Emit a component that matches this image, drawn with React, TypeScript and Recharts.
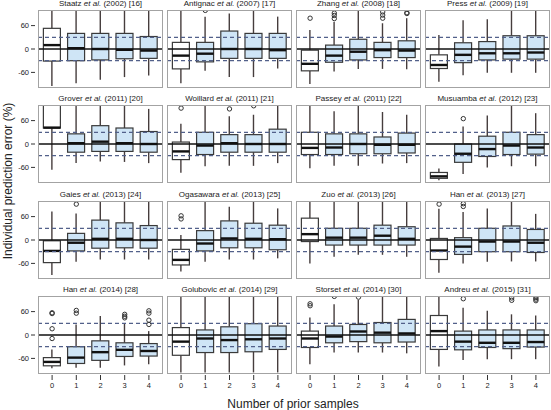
import React from "react";
import { ComposedChart, Bar, Line, XAxis, YAxis, ReferenceLine } from "recharts";

const CATEGORIES = ["0", "1", "2", "3", "4"];
const Y_TICKS = [-60, -30, 0, 30, 60];

// each entry: [lower whisker, q1, median, q3, upper whisker]
type Stat = [number, number, number, number, number];

const staatz: Stat[] = [[-95, -31, 10, 53, 100], [-88, -30, 2, 40, 100], [-79, -28, 0, 40, 100], [-72, -25, -2, 40, 100], [-68, -24, -4, 32, 100]];
const antignac: Stat[] = [[-88, -51, -17, 17, 100], [-56, -33, -12, 17, 83], [-72, -24, 0, 46, 91], [-72, -24, 0, 40, 100], [-50, -24, -3, 40, 83]];
const zhang: Stat[] = [[-90, -56, -38, -3, 49], [-58, -34, -17, 10, 70], [-51, -28, -7, 25, 100], [-51, -22, -3, 17, 66], [-52, -22, -4, 21, 79]];
const press: Stat[] = [[-84, -50, -41, -15, 36], [-67, -35, -15, 16, 74], [-61, -28, -11, 19, 76], [-61, -26, -11, 34, 100], [-61, -26, -9, 34, 100]];
const grover: Stat[] = [[-66, 41, 42, 100, 100], [-49, -21, 2, 26, 100], [-45, -19, 6, 47, 100], [-46, -19, 2, 41, 100], [-49, -21, 0, 32, 90]];
const woillard: Stat[] = [[-74, -40, -19, 5, 52], [-57, -27, -4, 30, 100], [-56, -21, 2, 24, 71], [-56, -21, 0, 24, 75], [-49, -21, 0, 38, 100]];
const passey: Stat[] = [[-62, -27, -10, 30, 100], [-56, -27, -9, 26, 84], [-56, -25, 0, 26, 99], [-50, -25, -2, 18, 82], [-49, -23, -2, 28, 75]];
const musuamba: Stat[] = [[-93, -88, -83, -73, -63], [-77, -47, -25, 0, 45], [-60, -32, -13, 20, 73], [-57, -27, -4, 30, 100], [-57, -26, -9, 24, 79]];
const gaies: Stat[] = [[-90, -58, -28, -2, 73], [-56, -28, -7, 17, 68], [-50, -21, 3, 51, 100], [-50, -20, 3, 44, 100], [-50, -21, 0, 37, 100]];
const ogasawara: Stat[] = [[-81, -64, -51, -24, 13], [-56, -28, -9, 24, 100], [-50, -20, 4, 49, 85], [-50, -20, 3, 43, 100], [-47, -25, 2, 38, 81]];
const zuo: Stat[] = [[-60, -4, 15, 56, 100], [-43, -13, 6, 30, 100], [-38, -13, 6, 30, 100], [-38, -13, 11, 38, 100], [-43, -13, 3, 34, 100]];
const han2013: Stat[] = [[-84, -50, -27, 4, 80], [-60, -37, -17, 6, 72], [-56, -30, -4, 30, 81], [-55, -30, -4, 36, 100], [-55, -32, -7, 27, 67]];
const han2014: Stat[] = [[-85, -79, -69, -58, -37], [-84, -73, -58, -30, 27], [-84, -65, -44, -15, 49], [-78, -55, -38, -20, 30], [-75, -54, -41, -22, 10]];
const golubovic: Stat[] = [[-96, -52, -17, 19, 100], [-96, -45, -9, 13, 100], [-96, -45, -13, 21, 100], [-96, -43, -11, 29, 100], [-96, -37, -9, 23, 100]];
const storset: Stat[] = [[-75, -32, -9, 10, 45], [-45, -20, -4, 23, 79], [-45, -17, 9, 27, 90], [-45, -20, 6, 32, 100], [-47, -18, 4, 40, 100]];
const andreu: Stat[] = [[-81, -37, 10, 50, 100], [-64, -38, -17, 10, 70], [-62, -32, -20, 13, 62], [-62, -35, -20, 13, 53], [-62, -31, -18, 13, 50]];

// outliers per category
const antignacOut = [[], [99], [], [], []];
const zhangOut = [[79], [92, 86, 78], [], [95, 87, 79], [93, 91]];
const woillardOut = [[92], [], [90], [98], []];
const musuambaOut = [[], [65], [], [], []];
const gaiesOut = [[], [92], [], [], []];
const ogasawaraOut = [[62, 54], [], [], [], []];
const han2013Out = [[92], [93, 86], [], [], []];
const han2014Out = [[57, 55, 16, -9], [63, 56], [], [53, 48, 44], [62, 56, 38, 27]];
const storsetOut = [[80, 75], [99], [97], [], []];
const andreuOut = [[], [93], [], [95, 89], [96, 92, 88]];

const PANELS = [
  { author: "Staatz", year: "2002", ref: "16", stats: staatz, out: [] as number[][] },
  { author: "Antignac", year: "2007", ref: "17", stats: antignac, out: antignacOut },
  { author: "Zhang", year: "2008", ref: "18", stats: zhang, out: zhangOut },
  { author: "Press", year: "2009", ref: "19", stats: press, out: [] },
  { author: "Grover", year: "2011", ref: "20", stats: grover, out: [] },
  { author: "Woillard", year: "2011", ref: "21", stats: woillard, out: woillardOut },
  { author: "Passey", year: "2011", ref: "22", stats: passey, out: [] },
  { author: "Musuamba", year: "2012", ref: "23", stats: musuamba, out: musuambaOut },
  { author: "Gaies", year: "2013", ref: "24", stats: gaies, out: gaiesOut },
  { author: "Ogasawara", year: "2013", ref: "25", stats: ogasawara, out: ogasawaraOut },
  { author: "Zuo", year: "2013", ref: "26", stats: zuo, out: [] },
  { author: "Han", year: "2013", ref: "27", stats: han2013, out: han2013Out },
  { author: "Han", year: "2014", ref: "28", stats: han2014, out: han2014Out },
  { author: "Golubovic", year: "2014", ref: "29", stats: golubovic, out: [] },
  { author: "Storset", year: "2014", ref: "30", stats: storset, out: storsetOut },
  { author: "Andreu", year: "2015", ref: "31", stats: andreu, out: andreuOut },
];

const COL_X = [38, 167, 296, 425];
const ROW_Y = [10, 105, 201, 296];
const PW = 125;
const PH = 78;
const Y_AXIS_W = 38;
const X_AXIS_H = 16;
const FONT = "'Liberation Sans', Arial, sans-serif";

const toRows = (stats: Stat[], out: number[][]) =>
  CATEGORIES.map((n, i) => {
    const [lo, q1, med, q3, hi] = stats[i];
    const row: any = { n, lo, q1, med, q3, hi };
    (out[i] ?? []).forEach((v, k) => (row[`o${k}`] = v));
    return row;
  });

const BoxShape = (props: any) => {
  const { x, y, width, height, payload } = props;
  if (!payload) return null;
  const top = Math.min(y, y + height);
  const h = Math.abs(height);
  const { lo, q1, med, q3, hi, n } = payload;
  const py = (v: number) => (hi === lo ? top : top + ((hi - v) / (hi - lo)) * h);
  const cx = x + width / 2;
  return (
    <g>
      <line x1={cx} x2={cx} y1={py(hi)} y2={py(q3)} stroke="#463d3d" strokeWidth={1.4} />
      <line x1={cx} x2={cx} y1={py(q1)} y2={py(lo)} stroke="#463d3d" strokeWidth={1.4} />
      <rect
        x={x}
        y={py(q3)}
        width={width}
        height={Math.max(0, py(q1) - py(q3))}
        fill={n === "0" ? "#ffffff" : "#cfe5f6"}
        stroke="#3a3a3a"
        strokeWidth={1.2}
      />
      <line x1={x} x2={x + width} y1={py(med)} y2={py(med)} stroke="#111" strokeWidth={2.4} />
    </g>
  );
};

const YTick = ({ x, y, payload }: any) => (
  <g>
    <line x1={x - 7} x2={x - 3} y1={y} y2={y} stroke="#333" strokeWidth={1} />
    <text x={x - 9} y={y} dy="0.35em" textAnchor="end" fontSize={7.5} fill="#222" fontFamily={FONT}>
      {payload.value}
    </text>
  </g>
);

const XTick = ({ x, y, payload }: any) => (
  <g>
    <line x1={x} x2={x} y1={y + 1} y2={y + 6} stroke="#333" strokeWidth={1} />
    <text x={x} y={y + 11} dy="0.35em" textAnchor="middle" fontSize={7.5} fill="#222" fontFamily={FONT}>
      {payload.value}
    </text>
  </g>
);

function Panel({ idx }: { idx: number }) {
  const p = PANELS[idx];
  const col = idx % 4;
  const row = Math.floor(idx / 4);
  const showY = col === 0;
  const showX = row === 3;
  const w = PW + (showY ? Y_AXIS_W : 0);
  const h = PH + (showX ? X_AXIS_H : 0);
  const left = COL_X[col];
  const top = ROW_Y[row];
  const data = toRows(p.stats, p.out);

  return (
    <>
      <div
        style={{
          position: "absolute",
          left,
          top: top - 11,
          width: PW,
          textAlign: "center",
          fontSize: 8,
          lineHeight: "10px",
          color: "#222",
          whiteSpace: "nowrap",
        }}
      >
        {p.author} <i>et al.</i> ({p.year}) [{p.ref}]
      </div>
      <div style={{ position: "absolute", left: left - (showY ? Y_AXIS_W : 0), top, width: w, height: h }}>
        <ComposedChart
          width={w}
          height={h}
          data={data}
          margin={{ top: 0, right: 0, bottom: 0, left: 0 }}
          barCategoryGap="14%"
        >
          <XAxis
            dataKey="n"
            hide={!showX}
            height={X_AXIS_H}
            axisLine={false}
            tickLine={false}
            tickSize={0}
            tickMargin={0}
            interval={0}
            padding={{ left: 2, right: 2 }}
            tick={<XTick />}
          />
          <YAxis
            hide={!showY}
            width={Y_AXIS_W}
            domain={[-100, 100]}
            ticks={Y_TICKS}
            allowDataOverflow
            axisLine={false}
            tickLine={false}
            tickSize={0}
            tickMargin={0}
            tick={<YTick />}
          />
          <Bar
            dataKey={(d: any) => [d.lo, d.hi]}
            shape={(s: any) => <BoxShape {...s} />}
            isAnimationActive={false}
          />
          <ReferenceLine y={30} stroke="#52608a" strokeWidth={1.2} strokeDasharray="4 3" />
          <ReferenceLine y={-30} stroke="#52608a" strokeWidth={1.2} strokeDasharray="4 3" />
          <ReferenceLine y={0} stroke="#111" strokeWidth={1.3} />
          {[0, 1, 2, 3].map((k) => (
            <Line
              key={k}
              dataKey={`o${k}`}
              stroke="none"
              dot={{ r: 2.2, fill: "none", stroke: "#333", strokeWidth: 1 }}
              activeDot={false}
              isAnimationActive={false}
            />
          ))}
        </ComposedChart>
      </div>
      <div
        style={{
          position: "absolute",
          left,
          top,
          width: PW,
          height: PH,
          border: "1px solid #a3a3a3",
          boxSizing: "border-box",
          pointerEvents: "none",
        }}
      />
    </>
  );
}

export default function App() {
  return (
    <div
      style={{
        position: "absolute",
        left: 0,
        top: 0,
        width: 551,
        height: 410,
        background: "#fff",
        fontFamily: FONT,
        overflow: "hidden",
      }}
    >
      {PANELS.map((_, i) => (
        <Panel key={i} idx={i} />
      ))}
      <div
        style={{
          position: "absolute",
          left: 8,
          top: 181,
          transform: "translate(-50%, -50%) rotate(-90deg)",
          whiteSpace: "nowrap",
          fontSize: 12,
          lineHeight: "14px",
          color: "#222",
        }}
      >
        Individual prediction error (%)
      </div>
      <div
        style={{
          position: "absolute",
          left: 293,
          top: 404,
          transform: "translate(-50%, -50%)",
          whiteSpace: "nowrap",
          fontSize: 12,
          color: "#222",
        }}
      >
        Number of prior samples
      </div>
    </div>
  );
}
